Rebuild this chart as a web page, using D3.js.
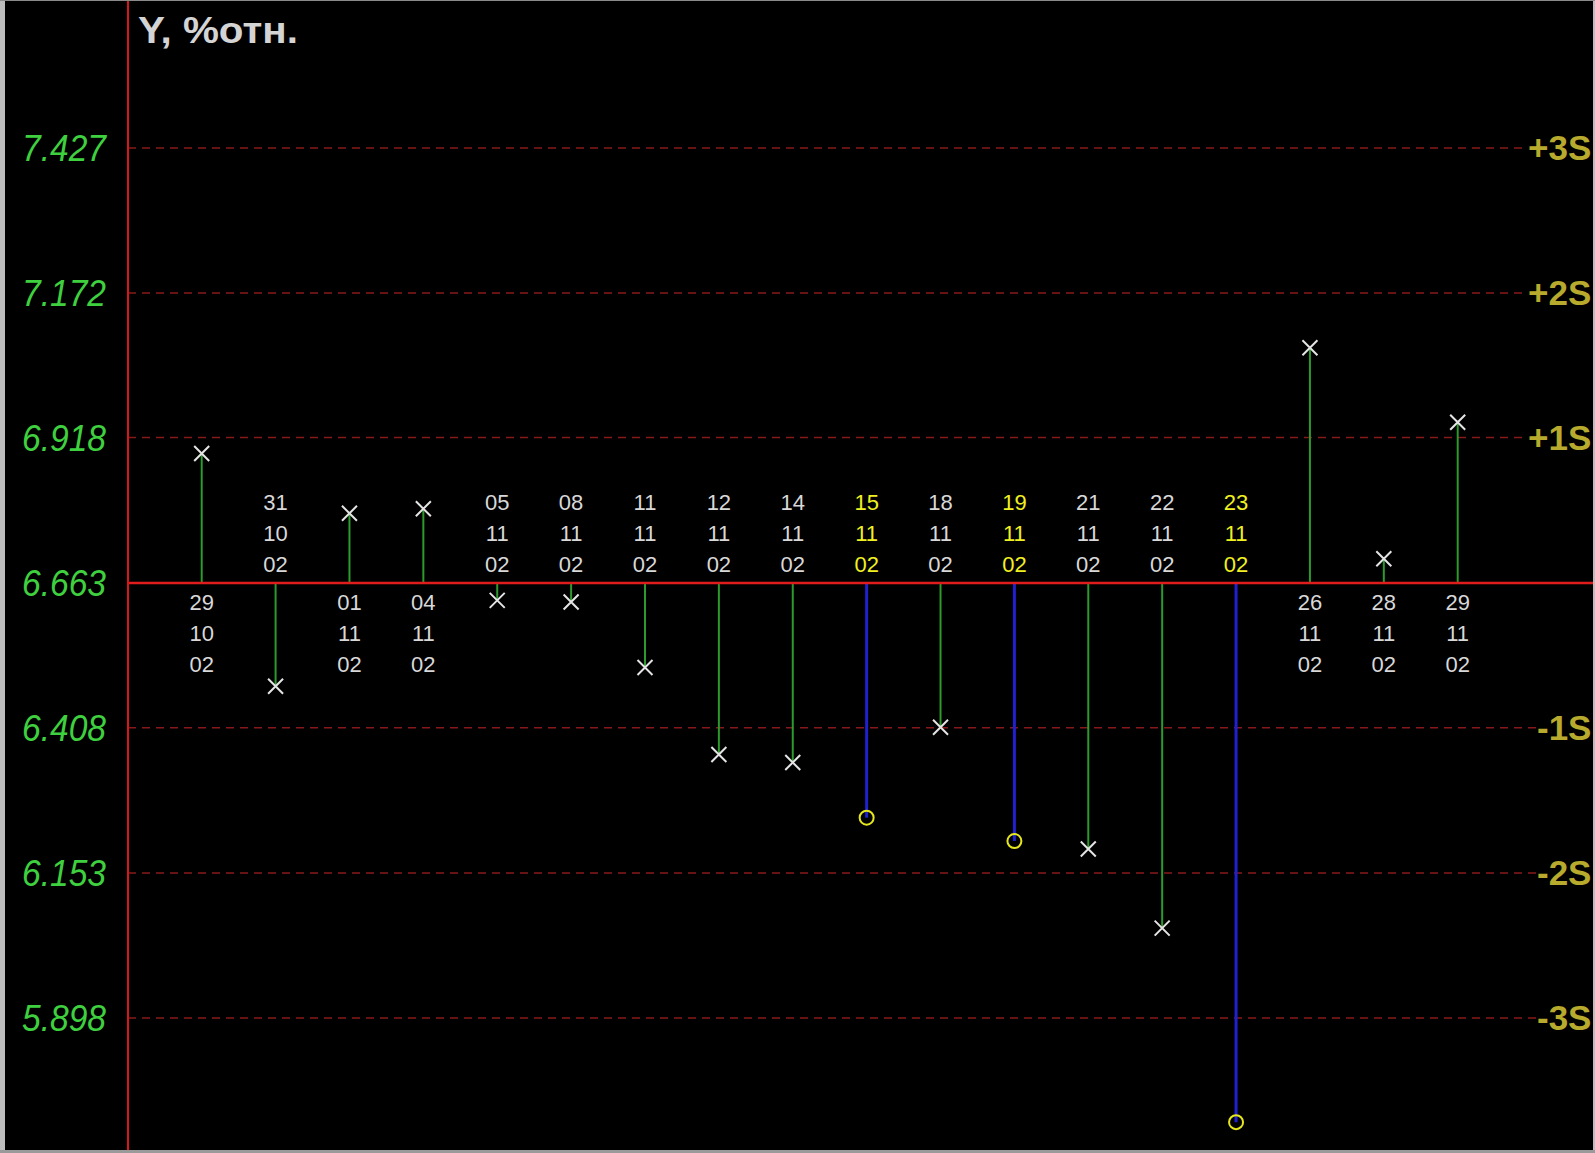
<!DOCTYPE html>
<html>
<head>
<meta charset="utf-8">
<script src="https://cdn.jsdelivr.net/npm/d3@7"></script>
<style>
html,body{margin:0;padding:0;background:#000;}
svg{display:block;}
</style>
</head>
<body>
<svg id="chart" width="1595" height="1153"></svg>
<script>
// ---- data ----
const days   = ["29","31","01","04","05","08","11","12","14","15","18","19","21","22","23","26","28","29"];
const months = ["10","10","11","11","11","11","11","11","11","11","11","11","11","11","11","11","11","11"];
const years  = ["02","02","02","02","02","02","02","02","02","02","02","02","02","02","02","02","02","02"];
const values = [6.890,6.481,6.785,6.793,6.632,6.629,6.514,6.361,6.347,6.250,6.409,6.209,6.195,6.056,5.715,7.076,6.705,6.945];
const flagged = [false,false,false,false,false,false,false,false,false,true,false,true,false,false,true,false,false,false];
const tickValues = [7.427,7.172,6.918,6.663,6.408,6.153,5.898];
const sigmaLabels = ["+3S","+2S","+1S","","-1S","-2S","-3S"];
const meanValue = 6.6625;
const title = "Y, %отн.";

// ---- layout ----
const W = 1595, H = 1153;
const axisX = 128;
const svg = d3.select("#chart");

const y = d3.scaleLinear().domain([5.898, 7.427]).range([1018, 148]);
const keys = days.map((d,i)=>i);
const x = d3.scalePoint().domain(keys).range([201.7, 1457.7]);

svg.append("rect").attr("width",W).attr("height",H).attr("fill","#000");

// dashed sigma lines
tickValues.forEach((v,i)=>{
  if (!sigmaLabels[i]) return;
  const lx = sigmaLabels[i][0]==="+" ? 1528 : 1537;
  svg.append("line")
    .attr("x1",axisX).attr("x2", lx)
    .attr("y1",y(v)).attr("y2",y(v))
    .attr("stroke","#861a1a").attr("stroke-width",1.5)
    .attr("stroke-dasharray","8,6");
  svg.append("text")
    .attr("x", lx)
    .attr("y", y(v)+12)
    .attr("fill","#b7aa2c")
    .attr("font-family","Liberation Sans, Arial, sans-serif")
    .attr("font-weight","bold")
    .attr("font-size",35)
    .text(sigmaLabels[i]);
});

// y tick labels
tickValues.forEach(v=>{
  svg.append("text")
    .attr("x",106).attr("y",y(v)+13)
    .attr("text-anchor","end")
    .attr("fill","#3fd03f")
    .attr("font-family","Liberation Sans, Arial, sans-serif")
    .attr("font-style","italic")
    .attr("font-size",36)
    .attr("textLength",84).attr("lengthAdjust","spacingAndGlyphs")
    .text(v.toFixed(3));
});

// stems
const y0 = y(meanValue);
svg.selectAll("line.stem").data(values).enter().append("line")
  .attr("class","stem")
  .attr("x1",(d,i)=>x(i)).attr("x2",(d,i)=>x(i))
  .attr("y1",y0).attr("y2",d=>y(d))
  .attr("stroke",(d,i)=>flagged[i] ? "#2020d0" : "#2c9a2c")
  .attr("stroke-width",(d,i)=>flagged[i] ? 3 : 2);

// mean line & axis
svg.append("line").attr("x1",axisX).attr("x2",W).attr("y1",y0).attr("y2",y0)
  .attr("stroke","#e01c1c").attr("stroke-width",2.5);
svg.append("line").attr("x1",axisX).attr("x2",axisX).attr("y1",0).attr("y2",H)
  .attr("stroke","#d81818").attr("stroke-width",2);

// date labels
values.forEach((v,i)=>{
  const above = v < meanValue; // label goes above line when point is below
  const offs = above ? [-73,-42,-11] : [27,58,89];
  const lines = [days[i], months[i], years[i]];
  lines.forEach((t,k)=>{
    svg.append("text")
      .attr("x",x(i)).attr("y",y0+offs[k])
      .attr("text-anchor","middle")
      .attr("fill",flagged[i] ? "#f0f020" : "#d8d8d8")
      .attr("font-family","Liberation Sans, Arial, sans-serif")
      .attr("font-size",22)
      .text(t);
  });
});

// markers
values.forEach((v,i)=>{
  const cx = x(i), cy = y(v);
  if (flagged[i]) {
    svg.append("circle").attr("cx",cx).attr("cy",cy).attr("r",7)
      .attr("fill","none").attr("stroke","#e6e61e").attr("stroke-width",2);
  } else {
    const s = 7.5;
    svg.append("path")
      .attr("d",`M${cx-s},${cy-s}L${cx+s},${cy+s}M${cx-s},${cy+s}L${cx+s},${cy-s}`)
      .attr("stroke","#e4e4e4").attr("stroke-width",2);
  }
});

// title
svg.append("text")
  .attr("x",138).attr("y",43)
  .attr("fill","#d4d4d4")
  .attr("font-family","Liberation Sans, Arial, sans-serif")
  .attr("font-weight","bold")
  .attr("font-size",36)
  .attr("textLength",160).attr("lengthAdjust","spacingAndGlyphs")
  .text(title);

// window borders
svg.append("rect").attr("x",0).attr("y",0).attr("width",5).attr("height",H).attr("fill","#bdbdbd");
svg.append("rect").attr("x",W-2).attr("y",0).attr("width",2).attr("height",H).attr("fill","#bdbdbd");
svg.append("rect").attr("x",0).attr("y",H-3).attr("width",W).attr("height",3).attr("fill","#9a9a9a");
svg.append("rect").attr("x",0).attr("y",0).attr("width",W).attr("height",1).attr("fill","#8a8a8a");
</script>
</body>
</html>
